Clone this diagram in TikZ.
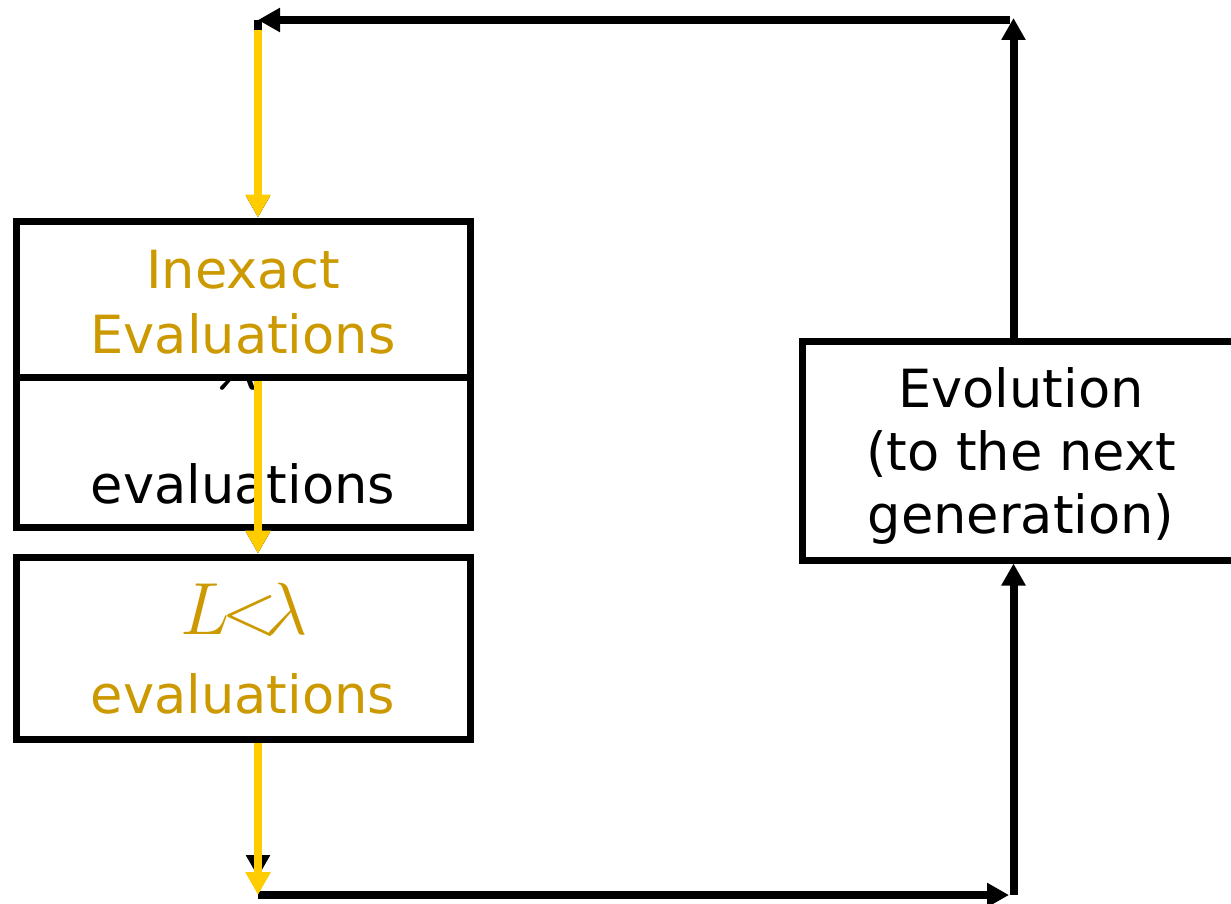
\documentclass[tikz,border=0pt]{standalone}
\usepackage{graphicx}
\usepackage{fontspec}
\setmainfont{DejaVu Sans}
\usetikzlibrary{arrows.meta,fit,calc}
\definecolor{gold}{RGB}{204,153,0}
\definecolor{flow}{RGB}{255,204,0}
\newcommand{\bigmath}[1]{\scalebox{2.14}{$#1$}}
\begin{document}
\begin{tikzpicture}[x=0.5pt,y=-0.5pt,
  box/.style={draw=black,line width=3.5pt,fill=white,inner sep=0pt,rectangle},
  lbl/.style={anchor=base,inner sep=0pt,font=\fontsize{26.3pt}{31pt}\selectfont},
  mlbl/.style={anchor=base,inner sep=0pt,font=\fontsize{17.28pt}{20pt}\selectfont},
  blk/.style={draw=black,line width=4pt,-{Triangle[length=11pt,width=11.5pt]}},
  ylw/.style={draw=flow,line width=4pt,-{Triangle[length=11.5pt,width=12pt]}},
  plain/.style={draw=black,line width=4pt}]
  \useasboundingbox (0,0) rectangle (1231,904);
  \begin{scope}
  \clip (0,0) rectangle (1231,904);

  % corners of the outer loop
  \coordinate (tl) at (258,20);
  \coordinate (ys) at (258,30);
  \coordinate (th) at (1010,20);
  \coordinate (tr) at (1013.5,18);
  \coordinate (bl) at (258,895);
  \coordinate (bk) at (258,877);
  \coordinate (bh) at (1009,895);
  \coordinate (br) at (1013.5,895);

  % lambda evaluations, mostly under the inexact box
  \node[box,fit={(16,297) (470,527)}] (B) {};
  \node[mlbl] (Bl) at (238,389) {\bigmath{\lambda}};
  \node[lbl] (Bt) at (243,503) {evaluations};

  % inexact evaluations
  \node[box,fit={(16,221) (470,377)}] (A) {};
  \node[lbl,text=gold] (At1) at (243,288) {Inexact};
  \node[lbl,text=gold] (At2) at (243,353) {Evaluations};

  % L < lambda evaluations
  \node[box,fit={(16,557) (470,739)}] (C) {};
  \node[mlbl,text=gold] (Ct1) at (244,634) {\bigmath{L\mkern-2mu{<}\mkern-3mu\lambda}};
  \node[lbl,text=gold] (Ct2) at (243,713) {evaluations};

  % evolution step
  \node[box,fit={(802,341) (1240,560)}] (E) {};
  \node[lbl] (Et1) at (1021,407) {Evolution};
  \node[lbl] (Et2) at (1021,470) {(to the next};
  \node[lbl] (Et3) at (1021,533) {generation)};

  % black loop
  \draw[blk] (E.north -| tr) -- (tr);
  \draw[blk] (th) -- (tl);
  \draw[plain] (tl) -- (ys);
  \draw[blk] (ys) -- (ys |- A.north);
  \draw[blk] (ys |- A.south) -- (ys |- C.north);
  \draw[blk] (ys |- C.south) -- (bk);
  \draw[blk] (bl) -- (bh);
  \draw[blk] (br) -- (br |- E.south);

  % yellow flow through the evaluation boxes
  \draw[ylw] (ys) -- (ys |- A.north);
  \draw[ylw] (ys |- A.south) -- (ys |- C.north);
  \draw[ylw] (ys |- C.south) -- (bl);
  \end{scope}
\end{tikzpicture}
\end{document}
